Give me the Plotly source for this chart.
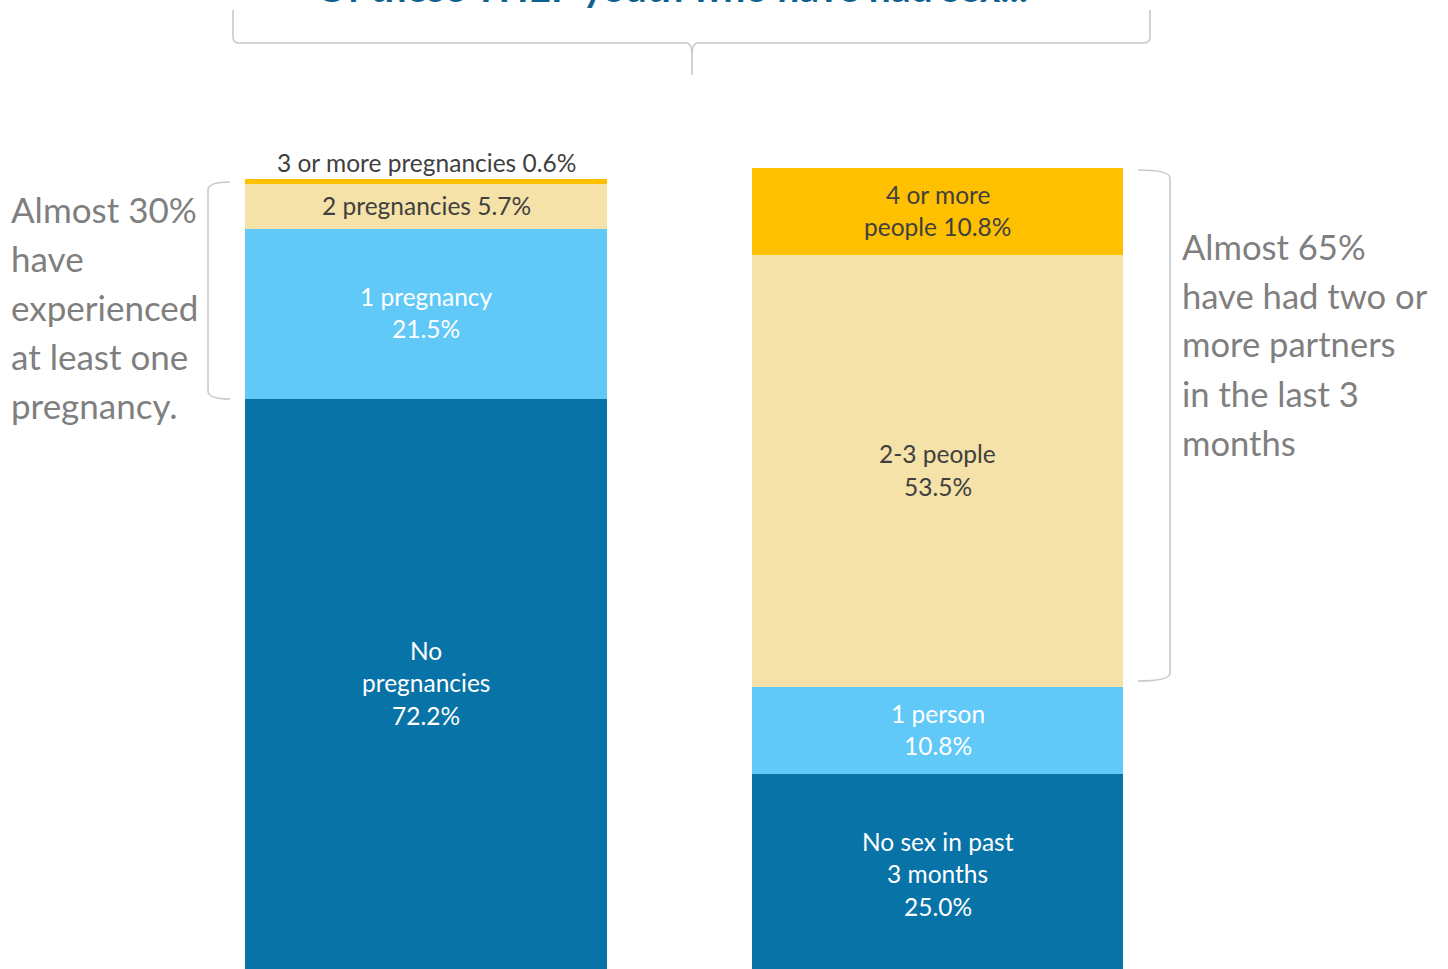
import plotly.graph_objects as go

# data
preg_categories = ["No pregnancies", "1 pregnancy", "2 pregnancies", "3 or more pregnancies"]
preg_values = [72.2, 21.5, 5.7, 0.6]
preg_labels = ["No<br>pregnancies<br>{:.1f}%", "1 pregnancy<br>{:.1f}%",
               "2 pregnancies {:.1f}%", "3 or more pregnancies {:.1f}%"]

partner_categories = ["No sex in past 3 months", "1 person", "2-3 people", "4 or more people"]
partner_values = [25.0, 10.8, 53.5, 10.8]
partner_labels = ["No sex in past<br>3 months<br>{:.1f}%", "1 person<br>{:.1f}%",
                  "2-3 people<br>{:.1f}%", "4 or more<br>people {:.1f}%"]

title_text = "Of these YHEP youth who have had sex..."
left_note = ["Almost 30%", "have", "experienced", "at least one", "pregnancy."]
right_note = ["Almost 65%", "have had two or", "more partners", "in the last 3", "months"]

W, H = 1448, 969
colors = ["#0873A7", "#61C9F8", "#F4E2A8", "#FFC000"]
label_colors = ["white", "white", "#404040", "#404040"]
FONT = "Lato"


def px(x):
    return x / W


def py(y):
    return 1 - y / H


fig = go.Figure()

for i, (cat, val) in enumerate(zip(preg_categories, preg_values)):
    fig.add_trace(go.Bar(x=["Pregnancies"], y=[val], name=cat, marker_color=colors[i],
                         marker_line_width=0, xaxis="x", yaxis="y", showlegend=False))
for i, (cat, val) in enumerate(zip(partner_categories, partner_values)):
    fig.add_trace(go.Bar(x=["Partners"], y=[val], name=cat, marker_color=colors[i],
                         marker_line_width=0, xaxis="x2", yaxis="y2", showlegend=False))

annotations = []


def add_lines(lines, x, y, xref, yref, spacing, size, color, xanchor="center", shift=0):
    # one annotation per line so the line spacing can be set in pixels
    n = len(lines)
    for k, line in enumerate(lines):
        annotations.append(dict(
            x=x, y=y, xref=xref, yref=yref, text=line, showarrow=False,
            xanchor=xanchor, yanchor="middle",
            yshift=shift + ((n - 1) / 2 - k) * spacing,
            font=dict(family=FONT, size=size, color=color)))


def label_stack(values, labels, xcat, xref, yref):
    base = 0
    for i, (val, tmpl) in enumerate(zip(values, labels)):
        lines = tmpl.format(val).split("<br>")
        if val < 2:
            # thin top segment: label sits above the bar
            add_lines(lines, xcat, base + val, xref, yref, 32, 24.5, "#404040", shift=17)
        else:
            add_lines(lines, xcat, base + val / 2, xref, yref, 32.5, 24.5, label_colors[i], shift=1)
        base += val


label_stack(preg_values, preg_labels, "Pregnancies", "x", "y")
label_stack(partner_values, partner_labels, "Partners", "x2", "y2")

# side notes
for k, line in enumerate(left_note):
    annotations.append(dict(x=px(9), y=py(209 + 49 * k), xref="paper", yref="paper",
                            text=line, showarrow=False, xanchor="left", yanchor="middle",
                            font=dict(family=FONT, size=35, color="#7F7F7F")))
for k, line in enumerate(right_note):
    annotations.append(dict(x=px(1180), y=py(246 + 49 * k), xref="paper", yref="paper",
                            text=line, showarrow=False, xanchor="left", yanchor="middle",
                            font=dict(family=FONT, size=34.6, color="#7F7F7F")))

# title, mostly cropped off the top edge
annotations.append(dict(x=px(672), y=py(12), xref="paper", yref="paper", text="<b>" + title_text + "</b>",
                        showarrow=False, xanchor="center", yanchor="bottom",
                        font=dict(family=FONT, size=39, color="#0E5F8E")))


def pt(x, y):
    return f"{px(x):.5f},{py(y):.5f}"


brace_line = dict(color="#C9C9C9", width=1.6)
shapes = [
    # left bracket
    dict(type="path", xref="paper", yref="paper", line=brace_line,
         path=f"M{pt(230, 182)} Q{pt(208, 182)} {pt(208, 190)} L{pt(208, 391)} Q{pt(208, 399)} {pt(230, 399)}"),
    # right bracket
    dict(type="path", xref="paper", yref="paper", line=brace_line,
         path=f"M{pt(1138, 170)} Q{pt(1170, 170)} {pt(1170, 178)} L{pt(1170, 673)} Q{pt(1170, 681)} {pt(1138, 681)}"),
    # top brace
    dict(type="path", xref="paper", yref="paper", line=brace_line,
         path=(f"M{pt(233, 10)} L{pt(233, 37)} Q{pt(233, 43)} {pt(240, 43)} L{pt(686, 43)} "
               f"Q{pt(692, 43)} {pt(692, 55)} L{pt(692, 75)} M{pt(692, 55)} Q{pt(692, 43)} {pt(698, 43)} "
               f"L{pt(1143, 43)} Q{pt(1150, 43)} {pt(1150, 37)} L{pt(1150, 10)}")),
]

fig.update_layout(
    width=W, height=H,
    margin=dict(l=0, r=0, t=0, b=0),
    paper_bgcolor="white", plot_bgcolor="white",
    barmode="stack", bargap=0,
    xaxis=dict(domain=[px(245), px(607)], range=[-0.5, 0.5], visible=False, anchor="y"),
    yaxis=dict(domain=[0, 1], range=[0, 969 / 7.9], visible=False, anchor="x"),
    xaxis2=dict(domain=[px(752), px(1123)], range=[-0.5, 0.5], visible=False, anchor="y2"),
    # the right bar runs slightly past the bottom edge
    yaxis2=dict(domain=[0, 1], range=[0.806, 120.93], visible=False, anchor="x2"),
    annotations=annotations,
    shapes=shapes,
    font=dict(family=FONT),
)

# drop the default 8px page margin so the figure sits at the window's top-left corner
fig.write_html("out.html", config={"displayModeBar": False},
               post_script="document.body.style.margin = '0px';")
